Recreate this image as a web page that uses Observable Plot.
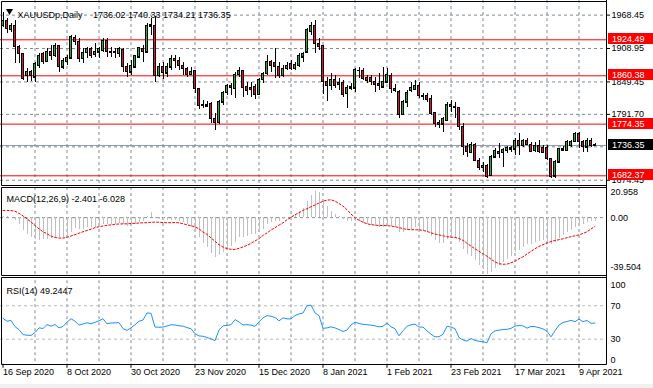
<!DOCTYPE html>
<html><head><meta charset="utf-8">
<script src="https://cdn.jsdelivr.net/npm/d3@7"></script>
<script src="https://cdn.jsdelivr.net/npm/@observablehq/plot@0.6"></script>
<style>
html,body{margin:0;padding:0;background:#fff;}
#chart{position:relative;width:653px;height:388px;overflow:hidden;background:#fff;font-family:"Liberation Sans",Arial,sans-serif;}
#chart svg{position:absolute;left:0;overflow:visible;}
#strip{position:absolute;left:0;top:384px;width:653px;height:4px;background:#f0f0f0;}
</style></head><body><div id="chart"><div id="strip"></div></div><script>
// ---------- data ----------
const symbol = "XAUUSDp,Daily";
const opens = [1949.9,1958.8,1942.8,1949.9,1911.3,1899.5,1860.9,1868.0,1857.9,1878.7,
1899.5,1885.8,1902.4,1896.5,1913.1,1875.7,1885.8,1891.8,1927.4,1920.2,
1890.6,1901.3,1908.4,1897.7,1902.4,1905.4,1923.2,1903.6,1901.3,1899.5,
1907.2,1876.9,1866.8,1875.7,1893.5,1908.4,1902.4,1948.7,1949.9,1860.9,
1876.9,1865.1,1875.7,1890.6,1887.6,1878.7,1872.8,1862.1,1869.8,1837.2,
1808.7,1806.3,1810.5,1783.8,1776.7,1813.4,1830.1,1841.9,1837.2,1862.1,
1869.8,1840.1,1838.4,1840.1,1826.5,1853.8,1863.9,1884.6,1883.5,1876.9,
1860.9,1872.8,1881.7,1872.8,1878.7,1893.5,1902.4,1939.2,1949.9,1917.3,
1914.3,1849.0,1843.1,1853.8,1847.3,1847.3,1828.3,1838.4,1838.4,1869.8,
1869.8,1856.2,1856.2,1849.0,1845.5,1840.1,1849.0,1860.9,1837.2,1832.4,
1790.9,1813.4,1833.6,1836.0,1843.1,1824.1,1825.3,1819.4,1794.5,1776.7,
1774.3,1780.8,1809.3,1805.0,1803.9,1769.0,1733.3,1723.3,1737.5,1709.6,
1700.7,1699.5,1682.9,1715.5,1725.6,1723.3,1726.8,1729.2,1729.2,1745.2,
1736.3,1745.2,1737.5,1726.8,1735.1,1731.6,1731.6,1711.4,1681.7,1706.6,
1728.0,1727.4,1736.3,1743.4,1757.1,1743.4,1732.8,1745.2,1736.02];
const highs = [1973.6,1961.8,1952.9,1958.8,1914.3,1900.0,1872.8,1869.8,1884.6,1899.5,
1902.4,1908.4,1914.3,1917.3,1914.3,1892.0,1896.5,1932.1,1932.1,1926.2,
1908.4,1911.3,1911.3,1917.3,1911.3,1926.2,1926.2,1911.3,1909.6,1911.3,
1909.6,1881.7,1887.6,1896.5,1911.3,1914.3,1952.9,1961.8,1966.5,1881.7,
1884.6,1881.7,1896.5,1896.5,1893.5,1884.6,1875.7,1875.7,1870.5,1838.4,
1816.4,1814.6,1813.4,1792.7,1816.4,1832.4,1844.3,1846.1,1866.8,1875.7,
1870.4,1849.0,1848.0,1844.3,1856.2,1866.8,1896.5,1887.6,1908.4,1884.6,
1878.7,1884.6,1887.6,1884.6,1899.5,1902.4,1945.2,1954.6,1958.8,1926.2,
1915.0,1857.9,1863.9,1860.9,1855.0,1852.0,1843.1,1846.1,1874.0,1875.7,
1872.8,1860.9,1860.9,1857.9,1863.9,1875.7,1872.8,1863.9,1844.3,1834.2,
1817.0,1834.2,1849.0,1852.0,1847.9,1828.3,1828.3,1825.3,1795.6,1780.8,
1786.7,1813.4,1816.4,1813.4,1804.5,1774.9,1739.3,1742.2,1739.3,1712.6,
1706.6,1702.0,1718.5,1730.4,1739.3,1730.4,1735.1,1735.1,1748.2,1757.1,
1747.0,1748.2,1742.2,1741.0,1745.2,1736.3,1736.3,1713.8,1709.6,1731.6,
1735.1,1745.2,1745.2,1760.0,1760.0,1745.2,1748.2,1748.2,1740.33];
const lows = [1946.9,1935.0,1938.0,1881.7,1881.7,1852.0,1847.9,1850.2,1847.9,1872.8,
1879.9,1883.5,1887.6,1893.5,1866.8,1871.6,1878.7,1890.6,1914.3,1884.6,
1881.7,1890.6,1890.6,1893.5,1890.6,1902.4,1893.5,1893.5,1890.6,1893.5,
1866.8,1857.9,1860.9,1872.8,1890.6,1884.6,1901.3,1932.1,1849.0,1857.9,
1853.8,1857.9,1869.8,1872.8,1869.8,1860.9,1857.9,1860.9,1828.3,1800.4,
1801.6,1804.5,1774.9,1763.0,1774.3,1807.5,1825.3,1825.3,1820.6,1857.9,
1822.3,1825.3,1822.3,1818.2,1825.3,1846.1,1860.9,1866.8,1855.0,1855.0,
1857.9,1869.8,1869.8,1869.8,1875.7,1884.6,1900.0,1932.1,1899.5,1905.4,
1826.5,1814.6,1834.2,1837.2,1834.2,1822.3,1801.6,1834.2,1831.2,1856.2,
1852.0,1846.1,1843.1,1830.1,1834.2,1837.2,1846.1,1828.3,1830.1,1783.8,
1789.7,1804.5,1830.1,1834.2,1819.4,1816.4,1813.4,1789.7,1769.0,1767.2,
1760.0,1780.0,1794.5,1783.8,1763.0,1718.5,1715.5,1721.5,1707.8,1691.8,
1688.9,1677.0,1681.7,1712.6,1712.6,1697.7,1721.5,1724.4,1718.5,1718.5,
1733.3,1736.3,1724.4,1724.4,1721.5,1721.5,1709.6,1677.0,1677.0,1706.0,
1725.6,1725.6,1733.3,1742.2,1730.4,1724.4,1723.3,1733.3,1734.21];
const closes = [1958.8,1944.0,1949.9,1911.3,1899.5,1855.0,1868.0,1859.7,1881.7,1896.5,
1885.8,1902.4,1896.5,1913.1,1875.7,1887.6,1892.4,1929.1,1920.2,1890.6,
1901.3,1908.4,1896.5,1903.6,1908.4,1923.2,1902.4,1901.3,1903.6,1908.4,
1875.7,1866.8,1878.7,1895.3,1909.6,1902.4,1949.9,1951.1,1860.9,1876.9,
1865.1,1876.9,1890.6,1887.6,1878.7,1872.8,1862.1,1868.0,1837.2,1807.5,
1806.3,1809.3,1783.8,1776.7,1814.6,1830.1,1841.9,1838.4,1862.1,1869.8,
1838.4,1834.2,1835.0,1826.5,1853.8,1863.9,1885.8,1878.7,1875.7,1859.7,
1872.8,1878.7,1872.8,1879.9,1895.3,1899.5,1942.8,1949.9,1917.3,1911.3,
1849.0,1841.9,1853.8,1843.1,1844.3,1826.5,1838.4,1841.3,1871.6,1868.6,
1855.0,1852.0,1849.0,1844.3,1843.1,1849.0,1862.1,1837.2,1833.6,1790.9,
1813.4,1830.1,1838.4,1843.1,1824.1,1825.3,1818.2,1792.7,1774.3,1773.1,
1783.8,1809.3,1804.5,1803.9,1769.0,1733.3,1724.4,1737.5,1709.6,1696.6,
1696.0,1680.0,1715.5,1726.8,1721.5,1728.0,1731.6,1731.6,1745.2,1735.1,
1745.2,1737.5,1725.6,1735.1,1725.6,1723.3,1711.4,1680.0,1707.8,1729.2,
1730.4,1743.4,1743.4,1757.1,1743.4,1733.3,1745.2,1735.1,1736.35];
const macdMain = [1.0,0.5,0.0,-2.0,-4.5,-9.0,-11.5,-14.0,-15.5,-16.0,
-15.5,-15.0,-14.5,-13.5,-14.0,-14.0,-13.0,-10.0,-7.5,-8.5,
-8.0,-7.0,-7.0,-6.5,-5.5,-5.0,-5.0,-4.8,-4.5,-3.8,
-5.0,-6.0,-6.0,-5.0,-3.5,-2.5,1.0,3.5,-0.5,-1.5,
-2.0,-2.3,-2.0,-2.2,-2.8,-3.5,-5.0,-7.0,-10.0,-14.0,
-18.0,-21.0,-25.0,-27.5,-26.5,-24.5,-22.0,-20.0,-17.0,-14.0,
-13.5,-13.0,-12.0,-12.0,-10.0,-8.0,-5.0,-3.5,-2.5,-2.5,
-1.5,0.0,0.5,1.5,4.0,6.5,11.0,15.5,18.0,17.5,
12.5,7.5,4.0,2.0,0.5,-1.5,-2.5,-3.0,-3.0,-3.0,
-4.0,-5.0,-5.5,-6.0,-6.5,-6.5,-5.5,-6.0,-7.0,-10.5,
-10.5,-9.0,-8.0,-7.0,-8.5,-9.5,-10.5,-13.0,-16.0,-18.0,
-18.0,-15.5,-14.5,-14.5,-17.0,-22.0,-25.5,-27.0,-30.0,-33.5,
-36.0,-39.5,-38.0,-35.0,-33.0,-31.0,-29.0,-27.0,-24.0,-22.5,
-20.5,-19.0,-18.5,-17.0,-16.5,-16.0,-16.5,-18.5,-17.0,-14.5,
-12.5,-10.5,-9.0,-7.0,-6.0,-5.0,-3.5,-2.8,-2.401];
const macdSignal = [5.0,5.0,4.9,4.5,3.0,1.2,-0.8,-3.0,-5.5,-7.8,
-9.8,-11.2,-12.8,-13.8,-14.2,-14.2,-13.6,-12.8,-11.8,-10.8,
-9.8,-8.9,-8.0,-7.0,-6.3,-5.8,-5.4,-5.0,-4.6,-4.4,
-4.3,-4.3,-4.1,-3.9,-3.7,-3.6,-3.5,-3.2,-3.1,-3.2,
-3.4,-3.5,-3.5,-3.4,-3.6,-4.2,-5.0,-5.6,-6.4,-7.8,
-10.0,-11.6,-14.0,-16.4,-18.8,-20.4,-21.5,-22.0,-22.1,-21.3,
-20.3,-19.3,-17.8,-16.2,-14.6,-12.4,-10.6,-8.6,-7.0,-5.2,
-3.6,-1.5,0.2,2.0,3.4,5.0,6.2,7.6,8.8,10.2,
11.4,12.2,12.4,11.5,9.8,8.0,5.5,2.5,0.0,-1.8,
-3.2,-4.3,-4.8,-5.2,-5.4,-5.5,-5.6,-5.8,-6.3,-6.9,
-7.6,-8.2,-8.4,-8.4,-8.5,-8.8,-9.6,-10.5,-11.4,-12.0,
-12.6,-13.2,-13.5,-13.8,-14.5,-15.8,-17.8,-19.8,-21.6,-23.4,
-25.0,-26.8,-28.8,-30.8,-32.0,-32.4,-32.3,-31.4,-30.2,-28.6,
-27.2,-25.3,-23.4,-21.6,-20.0,-18.8,-17.6,-16.6,-15.9,-15.3,
-14.7,-13.9,-13.2,-12.6,-12.0,-11.0,-9.8,-7.9,-6.028];
const rsiValues = [55.0,51.5,52.4,45.0,41.5,35.5,34.8,34.5,38.0,43.5,
42.8,47.5,45.5,47.6,43.5,45.3,50.4,54.5,51.5,46.8,
48.2,49.6,48.4,50.2,52.0,54.5,48.4,49.4,49.6,49.8,
42.6,40.6,43.5,47.3,51.5,53.0,61.4,61.0,44.5,44.3,
44.5,45.8,47.3,47.0,46.0,45.7,43.8,42.6,36.5,33.9,
33.5,32.0,30.5,28.2,41.0,46.0,46.5,47.3,53.5,50.5,
47.0,47.3,46.8,45.3,50.8,55.5,58.2,57.5,56.0,52.0,
55.5,54.3,54.3,58.2,60.2,61.4,70.0,70.8,61.5,58.2,
43.0,43.5,44.8,43.5,41.5,39.2,41.0,47.0,50.5,48.8,
47.8,47.3,46.8,46.0,44.8,45.5,49.5,44.8,42.6,34.0,
40.0,45.5,47.2,48.0,44.5,44.5,40.0,36.0,32.8,33.0,
36.0,45.5,44.5,42.6,32.0,29.0,27.7,30.8,28.5,27.5,
26.9,25.7,36.5,40.0,40.8,41.6,41.8,43.0,45.8,46.2,
46.0,43.2,45.3,45.0,43.8,42.3,39.5,32.8,40.0,47.0,
50.0,51.2,52.5,51.0,54.0,51.0,52.4,49.0,49.2447];
const dateLabels = ["16 Sep 2020","8 Oct 2020","30 Oct 2020","23 Nov 2020","15 Dec 2020","8 Jan 2021","1 Feb 2021","23 Feb 2021","17 Mar 2021","9 Apr 2021"];
const dateBars = [0,16,32,48,64,80,96,112,128,144];
const gridBars = [8,16,24,32,40,48,56,64,72,80,88,96,104,112,120,128,136,144];
const priceGrid = [1968.45,1908.95,1849.45,1791.70,1733.95,1674.45];
const priceTickLabels = [1968.45,1908.95,1849.45,1791.70,1674.45];
const levelLines = [1924.49,1860.38,1774.35,1682.37];
const macdScale = [20.958,0.00,-39.504];
const rsiLevels = [70,30];
const rsiScale = [100,70,30,0];

// ---------- styling ----------
const W = 653, MR = 47;
const xDomain = [-0.625, 150.875];
const gridColor = "#7d8b98";
const bull = "#25b325", bear = "#dc143c";
const font = "'Liberation Sans', Arial, sans-serif";
const baseStyle = {fontFamily: font, fontSize: "9px", background: "transparent", overflow: "visible", color: "#000"};
const N = closes.length;
const bars = d3.range(N).map(i => ({i, o: opens[i], h: highs[i], l: lows[i], c: closes[i]}));
const macdData = macdMain.map((v, i) => ({i, v}));
const sigData = macdSignal.map((v, i) => ({i, v}));
const rsiData = rsiValues.map((v, i) => ({i, v}));
const dateData = dateBars.map((b, k) => ({i: b, label: dateLabels[k]}));
const chart = document.getElementById("chart");

function line(svg, x1, y1, x2, y2, color) {
  d3.select(svg).append("line").attr("x1", x1).attr("y1", y1).attr("x2", x2).attr("y2", y2)
    .attr("stroke", color || "#000").attr("stroke-width", 1);
}
function place(svg, top) { svg.style.top = top + "px"; chart.appendChild(svg); }

// ---------- main price panel ----------
const main = Plot.plot({
  width: W, height: 186, marginLeft: 0, marginRight: MR, marginTop: 0, marginBottom: 0,
  x: {domain: xDomain, axis: null},
  y: {domain: [1663.32, 1994.46], axis: null},
  style: baseStyle,
  marks: [
    Plot.ruleX(gridBars, {x: d => d, stroke: gridColor, strokeDasharray: "3,3"}),
    Plot.ruleY(priceGrid, {y: d => d, stroke: gridColor, strokeDasharray: "3,3"}),
    Plot.ruleY([closes[N - 1]], {y: d => d, stroke: "#8e9aa6"}),
    Plot.ruleY(levelLines, {y: d => d, stroke: "#ff0000"}),
    Plot.ruleX(bars, {x: "i", y1: "l", y2: "h", stroke: "#000", shapeRendering: "crispEdges"}),
    Plot.ruleY(bars, {y: "o", x1: d => d.i - 0.375, x2: d => d.i + 0.375, stroke: "#000", shapeRendering: "crispEdges"}),
    Plot.rect(bars, {x1: d => d.i - 0.25, x2: d => d.i + 0.25, y1: "o", y2: "c",
      fill: d => d.c >= d.o ? bull : bear, stroke: "#000", strokeWidth: 1, shapeRendering: "crispEdges"}),
    Plot.axisY({anchor: "right", ticks: priceTickLabels, tickFormat: d => d.toFixed(2), tickSize: 3, tickPadding: 2, label: null, fontSize: 9}),
    Plot.dot([0], {frameAnchor: "top-left", dx: 9, dy: 10.5, symbol: "triangle", rotate: 180, r: 2.6, fill: "#000", stroke: null}),
    Plot.text([symbol], {frameAnchor: "top-left", dx: 17, dy: 10.8, textAnchor: "start", fontSize: 9, fill: "#000"}),
    Plot.text([[opens[N-1], highs[N-1], lows[N-1], closes[N-1]].map(v => v.toFixed(2)).join(" ")],
      {frameAnchor: "top-left", dx: 92.5, dy: 10.8, textAnchor: "start", fontSize: 9, fill: "#000"})
  ]
});
place(main, 0);
{
  const y = main.scale("y");
  const g = d3.select(main).append("g").attr("text-anchor", "start");
  const box = (v, bg) => {
    const yy = y.apply(v);
    g.append("rect").attr("x", 608).attr("y", Math.round(yy) - 6).attr("width", 45).attr("height", 11).attr("fill", bg);
    g.append("text").attr("x", 612).attr("y", yy).attr("dy", "0.35em").attr("fill", "#fff")
      .attr("text-anchor", "start").attr("font-size", 9).attr("font-family", font).text(v.toFixed(2));
  };
  levelLines.forEach(v => box(v, "#ff0000"));
  box(closes[N - 1], "#000");
  line(main, 1.5, 1.5, 606.5, 1.5);
  line(main, 1.5, 185.5, 606.5, 185.5);
  line(main, 1.5, 1.5, 1.5, 185.5);
  line(main, 606.5, 0, 606.5, 186);
}

// ---------- MACD panel ----------
const macd = Plot.plot({
  width: W, height: 90, marginLeft: 0, marginRight: MR, marginTop: 1, marginBottom: 2,
  x: {domain: xDomain, axis: null},
  y: {domain: [-39.504, 20.958], axis: null},
  style: baseStyle,
  marks: [
    Plot.ruleX(gridBars, {x: d => d, stroke: gridColor, strokeDasharray: "3,3"}),
    Plot.ruleY([0], {y: d => d, stroke: gridColor, strokeDasharray: "3,3"}),
    Plot.ruleX(macdData, {x: "i", y1: 0, y2: "v", stroke: "#c0c0c0", shapeRendering: "crispEdges"}),
    Plot.line(sigData, {x: "i", y: "v", stroke: "#ff0000", strokeDasharray: "2,2", strokeWidth: 1}),
    Plot.text([`MACD(12,26,9) ${macdMain[N-1].toFixed(3)} ${macdSignal[N-1].toFixed(3)}`],
      {frameAnchor: "top-left", dx: 6, dy: 8, textAnchor: "start", fontSize: 9, fill: "#000"}),
    Plot.text([macdScale[0]], {y: d => d, frameAnchor: "right", dx: 4, dy: 5, textAnchor: "start", text: d => d.toFixed(3), fontSize: 9, fill: "#000"}),
    Plot.text([macdScale[1]], {y: d => d, frameAnchor: "right", dx: 4, dy: 0, textAnchor: "start", text: d => d.toFixed(2), fontSize: 9, fill: "#000"}),
    Plot.text([macdScale[2]], {y: d => d, frameAnchor: "right", dx: 4, dy: -7, textAnchor: "start", text: d => d.toFixed(3), fontSize: 9, fill: "#000"})
  ]
});
place(macd, 186);
line(macd, 1.5, 1.5, 606.5, 1.5);
line(macd, 1.5, 89.5, 606.5, 89.5);
line(macd, 1.5, 1.5, 1.5, 89.5);
line(macd, 606.5, 0, 606.5, 90);

// ---------- RSI panel + date axis ----------
const rsi = Plot.plot({
  width: W, height: 112, marginLeft: 0, marginRight: MR, marginTop: 4.2, marginBottom: 24.25,
  x: {domain: xDomain, axis: null},
  y: {domain: [0, 100], axis: null},
  style: baseStyle,
  marks: [
    Plot.ruleX(gridBars, {x: d => d, stroke: gridColor, strokeDasharray: "3,3"}),
    Plot.ruleY(rsiLevels, {y: d => d, stroke: "#b8b8b8", strokeDasharray: "3,3"}),
    Plot.line(rsiData, {x: "i", y: "v", stroke: "#1e90ff", strokeWidth: 1}),
    Plot.text([`RSI(14) ${rsiValues[N-1].toFixed(4)}`],
      {frameAnchor: "top-left", dx: 6, dy: 6.8, textAnchor: "start", fontSize: 9, fill: "#000"}),
    Plot.text([rsiScale[0]], {y: d => d, frameAnchor: "right", dx: 4, dy: 4.5, textAnchor: "start", text: d => String(d), fontSize: 9, fill: "#000"}),
    Plot.text(rsiScale.slice(1, 3), {y: d => d, frameAnchor: "right", dx: 4, dy: 0, textAnchor: "start", text: d => String(d), fontSize: 9, fill: "#000"}),
    Plot.text([rsiScale[3]], {y: d => d, frameAnchor: "right", dx: 4, dy: -4.5, textAnchor: "start", text: d => String(d), fontSize: 9, fill: "#000"}),
    Plot.axisX({ticks: dateBars, tickFormat: () => "", tickSize: 4, label: null}),
    Plot.text(dateData, {x: "i", text: "label", frameAnchor: "bottom", dy: 10.5, textAnchor: "start", fontSize: 9, fill: "#000"})
  ]
});
place(rsi, 276);
line(rsi, 1.5, 1.5, 606.5, 1.5);
line(rsi, 1.5, 88.5, 606.5, 88.5);
line(rsi, 1.5, 1.5, 1.5, 88.5);
line(rsi, 606.5, 0, 606.5, 88.5);
</script></body></html>
